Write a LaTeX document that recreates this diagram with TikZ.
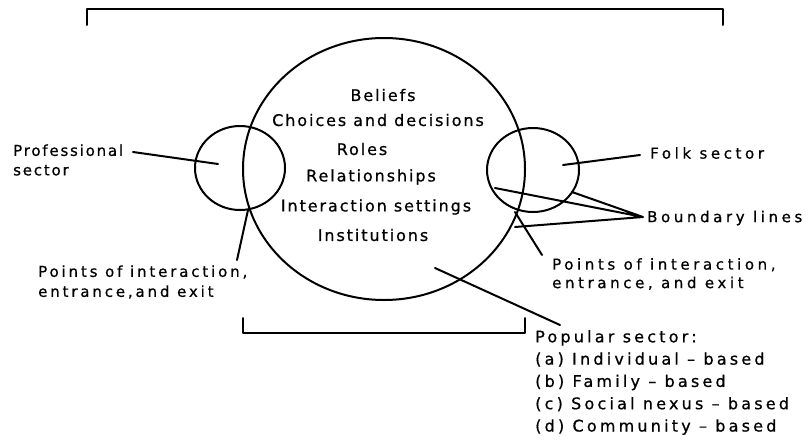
\documentclass[tikz,border=0pt]{standalone}
\usepackage{fontspec}
\setmainfont{DejaVu Sans}
\newfontfamily\lbl[LetterSpace=12,FakeBold=0.7]{DejaVu Sans}
\newfontfamily\lblm[LetterSpace=19,FakeBold=0.7]{DejaVu Sans}
\newfontfamily\lblw[LetterSpace=24,FakeBold=0.7]{DejaVu Sans}
\newfontfamily\lblp[LetterSpace=20,FakeBold=0.7]{DejaVu Sans}
\usetikzlibrary{shapes.geometric}
\begin{document}
\begin{tikzpicture}[x=1pt,y=-1pt,
  ln/.style={line width=2pt, line cap=round, line join=round},
  ctext/.style={font=\lbl\fontsize{16}{20}\selectfont, inner sep=0},
  stext/.style={font=\lbl\fontsize{15}{19.5}\selectfont, inner sep=0, align=left, anchor=west},
  ring/.style={draw, ln, ellipse, inner sep=0}]
\useasboundingbox[fill=white] (0,0) rectangle (811,442);
% brackets
\coordinate (tbl) at (87,25); \coordinate (tbr) at (723,25);
\draw[ln] (tbl) -- ++(0,-16) -| (tbr);
\coordinate (bbl) at (243,318); \coordinate (bbr) at (525,318);
\draw[ln] (bbl) -- ++(0,15) -| (bbr);
% circles
\node[ring, minimum width=282pt, minimum height=262pt] (popular) at (384,169) {};
\node[ring, minimum width=90pt, minimum height=84pt] (prof) at (240,168) {};
\node[ring, minimum width=92pt, minimum height=84pt] (folk) at (533,170) {};
% central text
\node[ctext] (t1) at (383,95) {Beliefs};
\node[ctext] (t2) at (378,120) {Choices and decisions};
\node[ctext] (t3) at (362,149) {Roles};
\node[ctext] (t4) at (371,177) {Relationships};
\node[ctext] (t5) at (376,207) {Interaction settings};
\node[ctext] (t6) at (373,235) {Institutions};
% side labels
\node[stext] (lprof) at (13,160) {Professional\\sector};
\node[stext, font=\lblw\fontsize{15}{19.5}\selectfont] (lfolk) at (650,153) {Folk sector};
\node[stext, font=\lblw\fontsize{15}{19.5}\selectfont] (lbound) at (647,218) {Boundary lines};
\node[stext, font=\lblm\fontsize{15}{20}\selectfont] (lpl) at (38,282) {Points of interaction,\\entrance,and exit};
\node[stext, font=\lblw\fontsize{15}{18.5}\selectfont] (lpr) at (552,274) {Points of interaction,\\entrance, and exit};
\node[stext, font=\lblp\fontsize{16}{22.3}\selectfont] (lpop) at (535,382.5) {Popular sector:\\(a) Individual – based\\(b) Family – based\\(c) Social nexus – based\\(d) Community – based};
% leader lines
\coordinate (profA) at (133,152); \coordinate (profB) at (218,164);
\draw[ln] (profA) -- (profB);
\coordinate (folkA) at (640,155); \coordinate (folkB) at (563,165);
\draw[ln] (folkA) -- (folkB);
\coordinate (bdA) at (643,217);
\coordinate (bd1) at (495,188); \coordinate (bd2) at (572,192); \coordinate (bd3) at (515,227);
\draw[ln] (bd1) -- (bdA) -- (bd2) (bdA) -- (bd3);
\coordinate (prA) at (515,212); \coordinate (prB) at (542,255);
\draw[ln] (prA) -- (prB);
\coordinate (plA) at (248,210); \coordinate (plB) at (237,260);
\draw[ln] (plA) -- (plB);
\coordinate (popA) at (435,268); \coordinate (popB) at (560,325);
\draw[ln] (popA) -- (popB);
\end{tikzpicture}
\end{document}
